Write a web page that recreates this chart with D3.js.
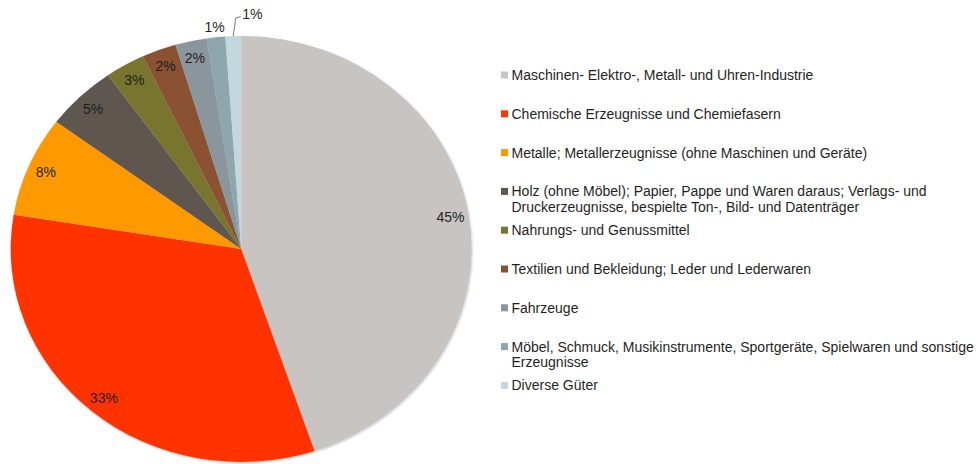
<!DOCTYPE html>
<html>
<head>
<meta charset="utf-8">
<script src="https://cdn.jsdelivr.net/npm/d3@7"></script>
<style>
  body { margin: 0; background: #fff; }
  svg { display: block; font-family: "Liberation Sans", Arial, sans-serif; }
</style>
</head>
<body>
<svg id="chart" width="978" height="464"></svg>
<script>
// categories (legend text, "\n" = line break as in the original)
var categories = [
	"Maschinen- Elektro-, Metall- und Uhren-Industrie",
	"Chemische Erzeugnisse und Chemiefasern",
	"Metalle; Metallerzeugnisse (ohne Maschinen und Geräte)",
	"Holz (ohne Möbel); Papier, Pappe und Waren daraus; Verlags- und\nDruckerzeugnisse, bespielte Ton-, Bild- und Datenträger",
	"Nahrungs- und Genussmittel",
	"Textilien und Bekleidung; Leder und Lederwaren",
	"Fahrzeuge",
	"Möbel, Schmuck, Musikinstrumente, Sportgeräte, Spielwaren und sonstige\nErzeugnisse",
	"Diverse Güter"
];
// shares in percent
var values = [44.8, 32.7, 7.6, 5.0, 2.8, 2.4, 2.2, 1.3, 1.1];
var colors = ["#c8c4c1", "#ff3300", "#ff9900", "#5e5650", "#77752f", "#8a5130", "#8a969b", "#8ea6ae", "#c3d7dd"];
// label placement: inside slice or outside (with leader for the last one)
var labelMode = ["in", "in", "in", "in", "in", "in", "in", "out", "leader"];

var svg = d3.select("#chart");
var cx = 241.2, cy = 249, ry = 213, rx = 230.5;
var sx = rx / ry;

var pie = d3.pie().sort(null).value(function(d) { return d; });
var arcs = pie(values);
var arc = d3.arc().innerRadius(0).outerRadius(ry);
var fmt = function(v) { return d3.format(".0f")(v) + "%"; };

// soft shadow
var defs = svg.append("defs");
var f = defs.append("filter").attr("id", "shadow").attr("x", "-10%").attr("y", "-10%").attr("width", "120%").attr("height", "120%");
f.append("feDropShadow").attr("dx", 0.5).attr("dy", 1).attr("stdDeviation", 1.2).attr("flood-color", "#000").attr("flood-opacity", 0.25);

var g = svg.append("g")
	.attr("transform", "translate(" + cx + "," + cy + ") scale(" + sx + ",1)")
	.attr("filter", "url(#shadow)");

g.selectAll("path")
	.data(arcs)
	.enter().append("path")
		.attr("d", arc)
		.attr("fill", function(d, i) { return colors[i]; });

// point on the (elliptic) pie at angle a, radius r
function pt(a, r) {
	return [cx + Math.sin(a) * r * sx, cy - Math.cos(a) * r];
}

var labels = svg.append("g")
	.attr("font-size", "14px")
	.attr("fill", "#1f1f1f");

arcs.forEach(function(d, i) {
	var mid = (d.startAngle + d.endAngle) / 2;
	var p;
	if (labelMode[i] == "in") {
		p = pt(mid, ry * 0.92);
		labels.append("text")
			.attr("x", p[0]).attr("y", p[1])
			.attr("text-anchor", "middle")
			.attr("dy", "0.35em")
			.text(fmt(d.data));
	} else if (labelMode[i] == "out") {
		p = pt(mid, ry * 1.05);
		labels.append("text")
			.attr("x", p[0]).attr("y", p[1])
			.attr("text-anchor", "middle")
			.attr("dy", "0.35em")
			.text(fmt(d.data));
	} else {
		var p0 = pt(mid, ry * 1.0);
		var p1 = [p0[0] + 2.5, pt(mid, ry * 1.085)[1]];
		var p2 = [p1[0] + 5, p1[1] - 1.5];
		labels.append("path")
			.attr("d", d3.line()([p0, p1, p2]))
			.attr("fill", "none")
			.attr("stroke", "#595959")
			.attr("stroke-width", 0.8);
		labels.append("text")
			.attr("x", p2[0] + 1.5).attr("y", p2[1] - 2)
			.attr("dy", "0.35em")
			.text(fmt(d.data));
	}
});

// legend
var ly = d3.scaleLinear().domain([0, categories.length - 1]).range([75, 385.4]);
var legend = svg.append("g")
	.attr("font-size", "14px")
	.attr("fill", "#1f1f1f");

var item = legend.selectAll("g")
	.data(categories)
	.enter().append("g")
		.attr("transform", function(d, i) { return "translate(501," + ly(i) + ")"; });

item.append("rect")
	.attr("x", 0).attr("y", -3.5)
	.attr("width", 7).attr("height", 7)
	.attr("fill", function(d, i) { return colors[i]; });

item.append("text")
	.attr("x", 10.5)
	.attr("y", 0)
	.selectAll("tspan")
	.data(function(d) { return d.split("\n"); })
	.enter().append("tspan")
		.attr("x", 10.5)
		.attr("dy", function(d, j) { return j == 0 ? "0.35em" : "15.5px"; })
		.text(function(d) { return d; });
</script>
</body>
</html>
